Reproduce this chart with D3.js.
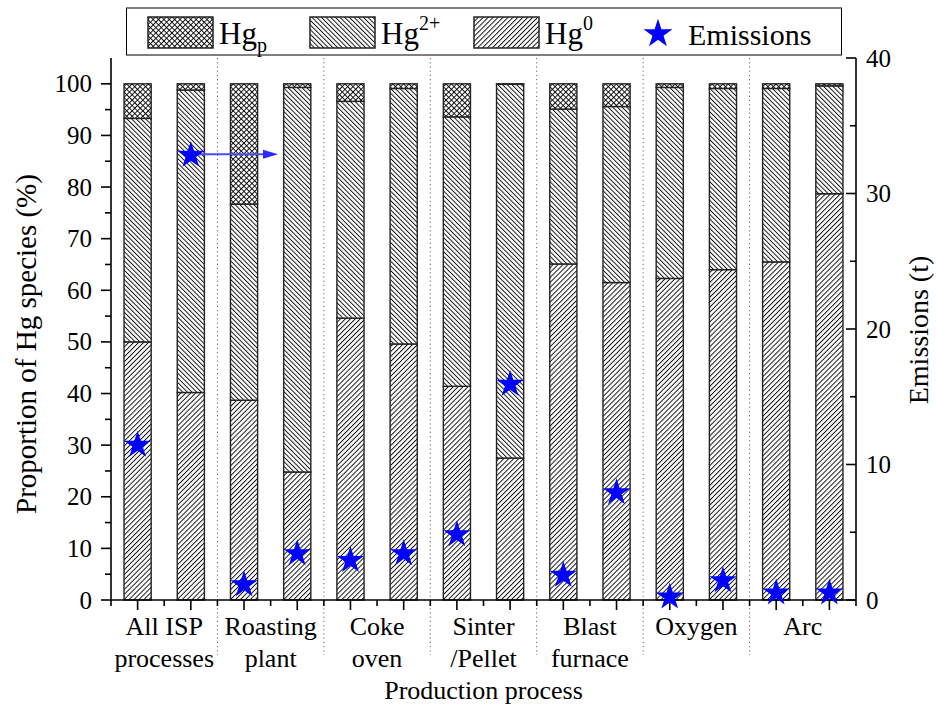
<!DOCTYPE html>
<html>
<head>
<meta charset="utf-8">
<style>
  body { margin: 0; background: #fff; }
  svg text { font-family: "Liberation Serif", "Times New Roman", serif; fill: #000; }
</style>
</head>
<body>
<svg width="936" height="711"></svg>
<script src="https://d3js.org/d3.v7.min.js"></script>
<script>
// bar order: two bars per production process
var groups = ["All ISP|processes", "Roasting|plant", "Coke|oven", "Sinter|/Pellet", "Blast|furnace", "Oxygen", "Arc"];
// species proportions (%)
var hg0   = [50.0, 40.2, 38.7, 24.8, 54.6, 49.6, 41.4, 27.5, 65.1, 61.5, 62.3, 64.0, 65.5, 78.7];
var hg2   = [43.3, 58.6, 38.0, 74.5, 42.0, 49.5, 52.2, 72.4, 30.0, 34.1, 37.0, 35.1, 33.6, 20.9];
var hgp   = [ 6.7,  1.2, 23.3,  0.7,  3.4,  0.9,  6.4,  0.1,  4.9,  4.4,  0.7,  0.9,  0.9,  0.4];
// emissions (t), right axis
var emissions = [11.5, 32.9, 1.2, 3.5, 3.0, 3.5, 4.9, 16.0, 1.9, 8.0, 0.3, 1.5, 0.6, 0.6];
var leftTicks = d3.range(0, 101, 10);
var rightTicks = d3.range(0, 41, 10);

var svg = d3.select("svg");
var plotLeft = 111, plotRight = 856, plotBottom = 600, plotTop = 58;

var x = d3.scaleBand().domain(d3.range(hg0.length)).range([plotLeft, plotRight])
  .paddingInner(0.49).paddingOuter(0.245);
var step = x.step();
var yL = d3.scaleLinear().domain([0, 105]).range([plotBottom, plotTop]);
var yR = d3.scaleLinear().domain([0, 40]).range([plotBottom, plotTop]);

// patterns
var defs = svg.append("defs");
function hatch(id, angle, gap, cross) {
  var p = defs.append("pattern").attr("id", id)
    .attr("patternUnits", "userSpaceOnUse")
    .attr("width", gap).attr("height", gap)
    .attr("patternTransform", "rotate(" + angle + ")");
  p.append("rect").attr("width", gap).attr("height", gap).attr("fill", "#fff");
  p.append("line").attr("x1", 0.5).attr("x2", 0.5).attr("y1", 0).attr("y2", gap)
    .attr("stroke", "#000").attr("stroke-width", 0.9);
  if (cross) p.append("line").attr("y1", 0.5).attr("y2", 0.5).attr("x1", 0).attr("x2", gap)
    .attr("stroke", "#000").attr("stroke-width", 0.9);
}
hatch("pHg0", 45, 3.5, false);
hatch("pHg2", -45, 3.3, false);
hatch("pHgp", 45, 3.8, true);

// dotted separators between processes
for (var k = 2; k < hg0.length; k += 2) {
  var sx = plotLeft + k * step;
  svg.append("line").attr("x1", sx).attr("x2", sx).attr("y1", plotTop).attr("y2", 655)
    .attr("stroke", "#666").attr("stroke-width", 1).attr("stroke-dasharray", "1.2,3");
}

// stacked bars
var stacks = hg0.map(function(v, i) {
  return [
    {y0: 0, y1: v, fill: "url(#pHg0)"},
    {y0: v, y1: v + hg2[i], fill: "url(#pHg2)"},
    {y0: v + hg2[i], y1: v + hg2[i] + hgp[i], fill: "url(#pHgp)"}
  ];
});
var bars = svg.append("g").selectAll("g").data(stacks).join("g")
  .attr("transform", function(d, i) { return "translate(" + x(i) + ",0)"; });
bars.selectAll("rect").data(function(d) { return d; }).join("rect")
  .attr("x", 0).attr("width", x.bandwidth())
  .attr("y", function(d) { return yL(d.y1); })
  .attr("height", function(d) { return yL(d.y0) - yL(d.y1); })
  .attr("fill", function(d) { return d.fill; })
  .attr("stroke", "#222").attr("stroke-width", 1.4);

// axes
var gAx = svg.append("g").attr("stroke", "#000").attr("stroke-width", 1.6);
gAx.append("line").attr("x1", plotLeft).attr("x2", plotLeft).attr("y1", plotTop).attr("y2", plotBottom);
gAx.append("line").attr("x1", plotRight).attr("x2", plotRight).attr("y1", plotTop).attr("y2", plotBottom);
gAx.append("line").attr("x1", plotLeft).attr("x2", plotRight).attr("y1", plotBottom).attr("y2", plotBottom);

d3.range(0, 101, 5).forEach(function(v) {
  var len = v % 10 === 0 ? 10 : 6;
  gAx.append("line").attr("x1", plotLeft - len).attr("x2", plotLeft).attr("y1", yL(v)).attr("y2", yL(v));
});
d3.range(0, 41, 5).forEach(function(v) {
  var len = v % 10 === 0 ? 10 : 6;
  gAx.append("line").attr("x1", plotRight - len).attr("x2", plotRight).attr("y1", yR(v)).attr("y2", yR(v));
});
hg0.forEach(function(v, i) {
  var cx = x(i) + x.bandwidth() / 2;
  gAx.append("line").attr("x1", cx).attr("x2", cx).attr("y1", plotBottom).attr("y2", plotBottom + 10);
});
for (var k = 0; k <= hg0.length; k++) {
  var bx = plotLeft + k * step;
  gAx.append("line").attr("x1", bx).attr("x2", bx).attr("y1", plotBottom).attr("y2", plotBottom + 6);
}

svg.append("g").selectAll("text").data(leftTicks).join("text")
  .attr("x", plotLeft - 19).attr("y", function(d) { return yL(d) + 8.5; })
  .attr("text-anchor", "end").attr("font-size", 25).text(function(d) { return d; });
svg.append("g").selectAll("text").data(rightTicks).join("text")
  .attr("x", plotRight + 10).attr("y", function(d) { return yR(d) + 8.5; })
  .attr("text-anchor", "start").attr("font-size", 25).text(function(d) { return d; });

// category labels
groups.forEach(function(g, gi) {
  var cx = plotLeft + (2 * gi + 1) * step;
  var lines = g.split("|");
  lines.forEach(function(t, li) {
    svg.append("text").attr("x", cx).attr("y", 635 + li * 32)
      .attr("text-anchor", "middle").attr("font-size", 26).text(t);
  });
});

svg.append("text").attr("x", (plotLeft + plotRight) / 2).attr("y", 699)
  .attr("text-anchor", "middle").attr("font-size", 26).text("Production process");
svg.append("text").attr("transform", "translate(36,344) rotate(-90)")
  .attr("text-anchor", "middle").attr("font-size", 29).text("Proportion of Hg species (%)");
svg.append("text").attr("transform", "translate(928,330) rotate(-90)")
  .attr("text-anchor", "middle").attr("font-size", 28).text("Emissions (t)");

// emissions stars
var star = d3.symbol().type(d3.symbolStar).size(230);
var starX = function(d, i) { return x(i) + x.bandwidth() / 2; };

// arrow from the ISP star toward the right axis
var ay = yR(emissions[1]);
svg.append("line").attr("x1", starX(0, 1)).attr("x2", 265).attr("y1", ay).attr("y2", ay)
  .attr("stroke", "#4a4aff").attr("stroke-width", 2);
svg.append("path").attr("d", "M263," + (ay - 4.5) + "L278," + ay + "L263," + (ay + 4.5) + "Z")
  .attr("fill", "#2a2aff");

svg.append("g").selectAll("path").data(emissions).join("path")
  .attr("d", star)
  .attr("transform", function(d, i) { return "translate(" + starX(d, i) + "," + (yR(d) + 1) + ")"; })
  .attr("fill", "#0000ff");

// legend
var lg = svg.append("g");
lg.append("rect").attr("x", 126.5).attr("y", 8).attr("width", 715).attr("height", 47)
  .attr("fill", "#fff").attr("stroke", "#000").attr("stroke-width", 1);
var legendItems = [
  {x: 148, fill: "url(#pHgp)", base: "Hg", sub: "p"},
  {x: 310, fill: "url(#pHg2)", base: "Hg", sup: "2+"},
  {x: 474, fill: "url(#pHg0)", base: "Hg", sup: "0"}
];
legendItems.forEach(function(it) {
  lg.append("rect").attr("x", it.x).attr("y", 17).attr("width", 65).attr("height", 31)
    .attr("fill", it.fill).attr("stroke", "#222").attr("stroke-width", 1.5);
  var t = lg.append("text").attr("x", it.x + 71).attr("y", 44).attr("font-size", 31);
  t.append("tspan").text(it.base);
  if (it.sub) t.append("tspan").attr("dy", 8).attr("font-size", 20).text(it.sub);
  if (it.sup) t.append("tspan").attr("dy", -14).attr("font-size", 20).text(it.sup);
});
lg.append("path").attr("d", d3.symbol().type(d3.symbolStar).size(260)).attr("transform", "translate(658,34)").attr("fill", "#0000ff");
lg.append("text").attr("x", 688).attr("y", 45).attr("font-size", 30).text("Emissions");
</script>
</body>
</html>
